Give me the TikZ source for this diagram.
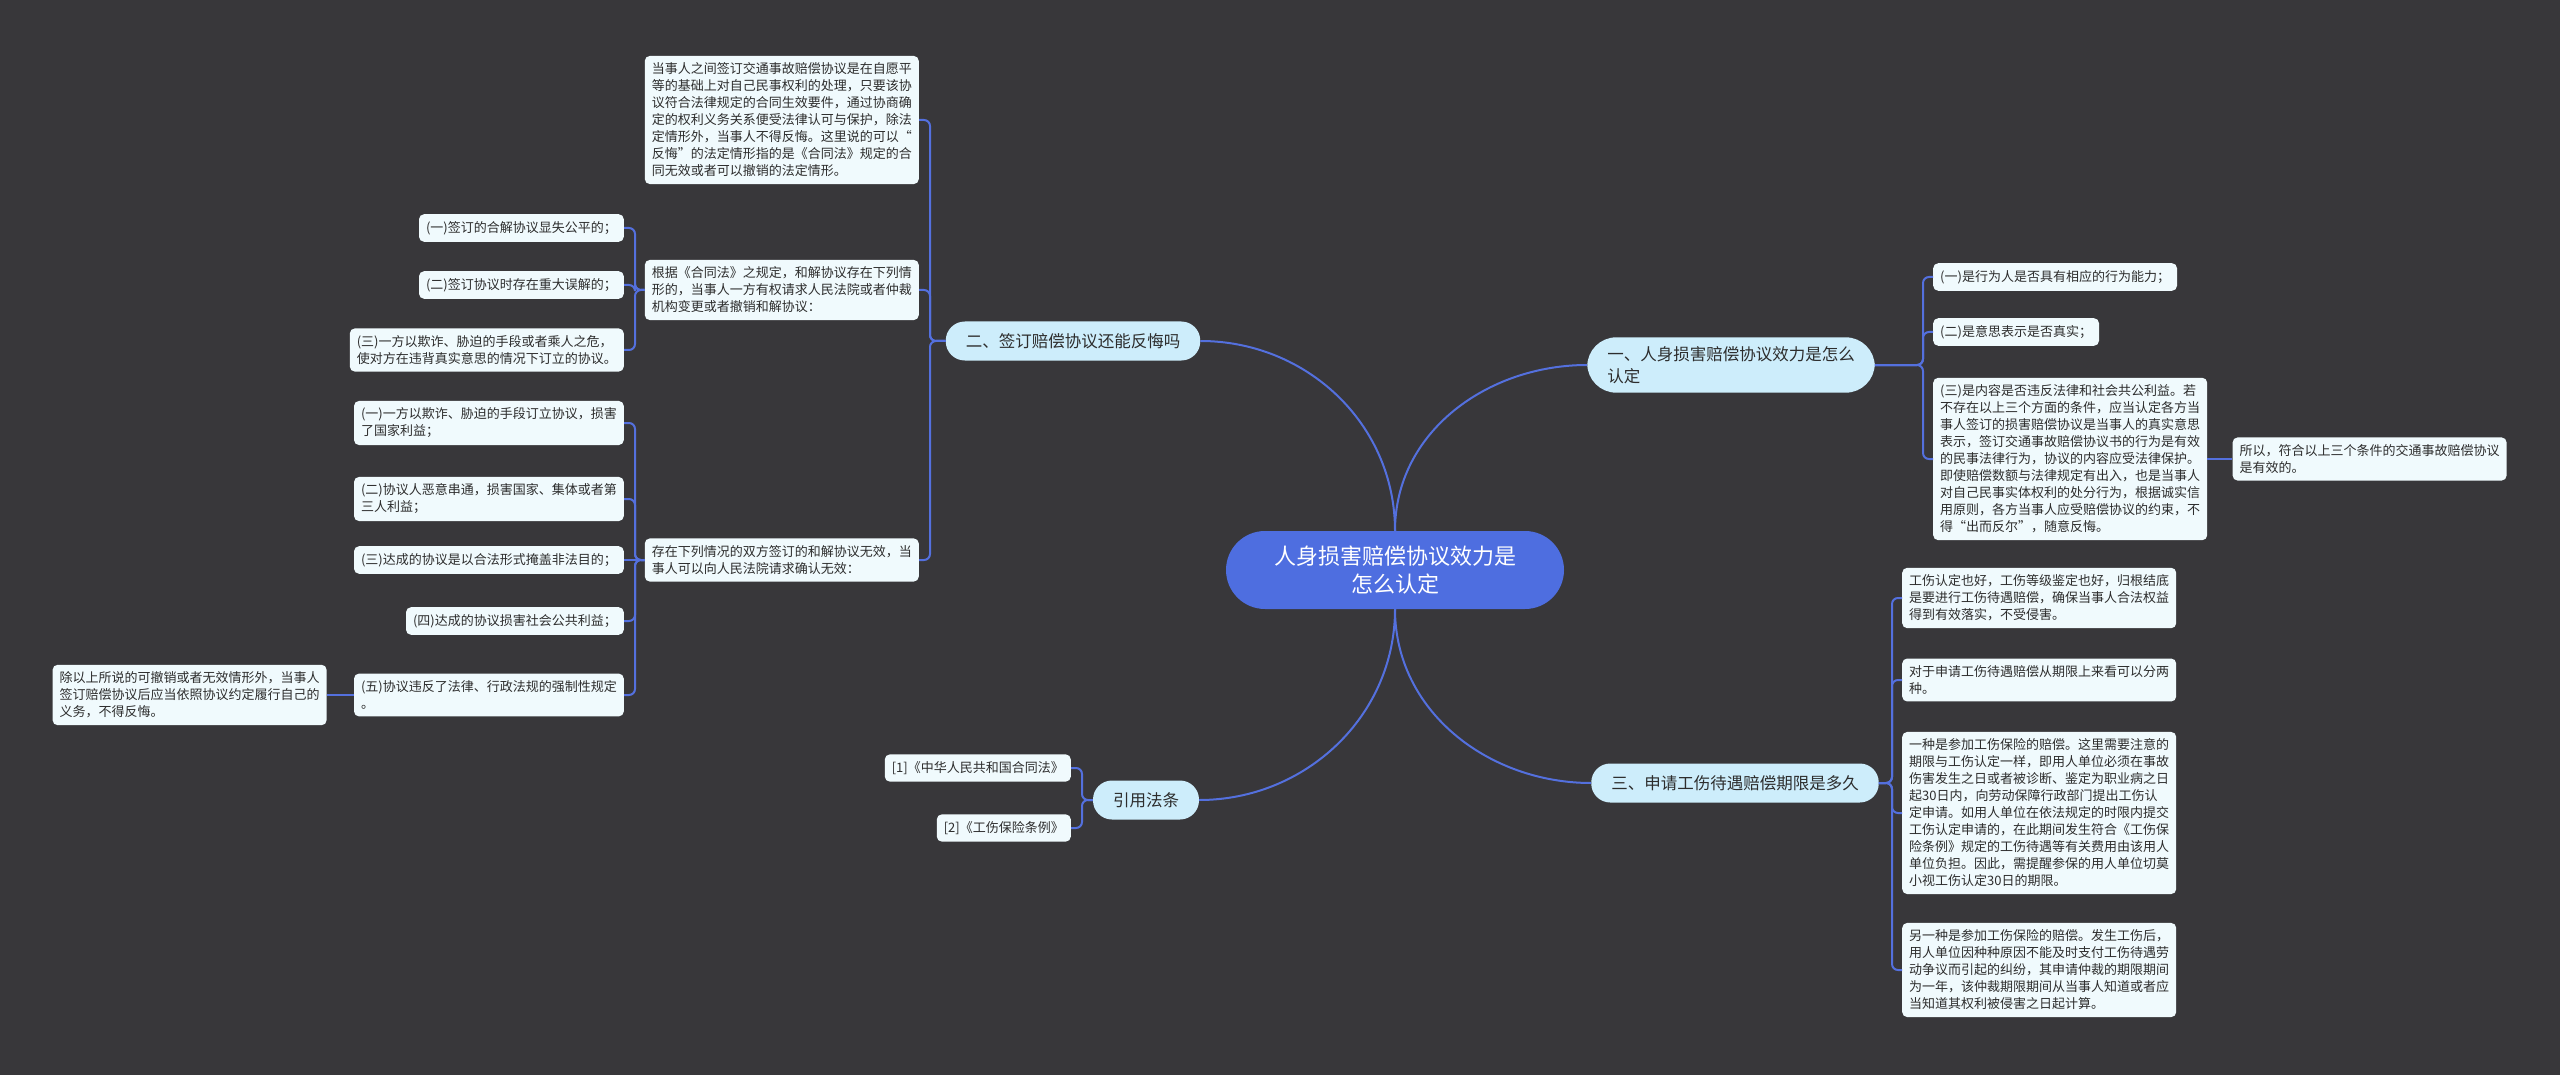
\documentclass[tikz,border=0pt]{standalone}
\usepackage{fontspec}
\setmainfont{Noto Sans CJK SC}
\usepackage{tikz}
\usetikzlibrary{positioning}
\definecolor{bgdark}{RGB}{56,55,58}
\definecolor{maplink}{RGB}{84,112,222}
\definecolor{rootblue}{RGB}{78,110,224}
\definecolor{topicblue}{RGB}{205,237,251}
\definecolor{leaffill}{RGB}{240,250,253}
\definecolor{inktext}{RGB}{45,45,45}
\tikzstyle{leaf} = [fill=leaffill, text=inktext, rounded corners=5pt, align=left,
  inner xsep=7pt, inner ysep=7pt, font=\fontsize{13}{17}\selectfont]
\tikzstyle{topic} = [fill=topicblue, text=inktext, rounded corners=19pt, align=left,
  inner xsep=20pt, inner ysep=9pt, minimum height=39pt,
  font=\fontsize{16.5}{22}\selectfont]
\tikzstyle{central} = [fill=rootblue, text=white, rounded corners=39pt, align=center,
  minimum width=338pt, minimum height=78pt, font=\fontsize{22}{28}\selectfont]
\tikzstyle{line} = [draw, line width=2pt, color=maplink, rounded corners=6pt]
\newcommand{\leafat}[3]{node (#1) [leaf, anchor=#2] {#3}}
\newcommand{\linkright}[2]{\path [line] (#1.east) -| ([xshift=-10pt]#2.west) -- (#2.west);}
\newcommand{\linkleft}[2]{\path [line] (#1.west) -| ([xshift=11pt]#2.east) -- (#2.east);}

\begin{document}
\begin{tikzpicture}[x=1pt,y=1pt]

  \useasboundingbox (0,0) rectangle (2560,-1075);
  \fill [bgdark] (0,0) rectangle (2560,-1075);

  % central topic and main branches
  \path (1395,-570) node (ROOT) [central] {人身损害赔偿协议效力是\\怎么认定};
  \path (1731,-365) node (XIAOLI) [topic, rounded corners=29pt] {一、人身损害赔偿协议效力是怎么\\认定};
  \path (1073,-341) node (FANHUI) [topic] {二、签订赔偿协议还能反悔吗};
  \path (1735,-783) node (QIXIAN) [topic] {三、申请工伤待遇赔偿期限是多久};
  \path (1146,-800) node (FATIAO) [topic] {引用法条};

  % branch one block area
  \path (1933,-277) \leafat{NENGLI}{west}{(一)是行为人是否具有相应的行为能力；};
  \path (1933,-332) \leafat{ZHENSHI}{west}{(二)是意思表示是否真实；};
  \path (1933,-459) \leafat{NEIRONG}{west}{(三)是内容是否违反法律和社会共公利益。若\\不存在以上三个方面的条件，应当认定各方当\\事人签订的损害赔偿协议是当事人的真实意思\\表示，签订交通事故赔偿协议书的行为是有效\\的民事法律行为，协议的内容应受法律保护。\\即使赔偿数额与法律规定有出入，也是当事人\\对自己民事实体权利的处分行为，根据诚实信\\用原则，各方当事人应受赔偿协议的约束，不\\得“出而反尔”，随意反悔。};
  \path (NEIRONG.east)+(25,0) \leafat{YOUXIAO}{west}{所以，符合以上三个条件的交通事故赔偿协议\\是有效的。};

  % branch two block area
  \path (919,-120) \leafat{ZIYUAN}{east}{当事人之间签订交通事故赔偿协议是在自愿平\\等的基础上对自己民事权利的处理，只要该协\\议符合法律规定的合同生效要件，通过协商确\\定的权利义务关系便受法律认可与保护，除法\\定情形外，当事人不得反悔。这里说的可以“\\反悔”的法定情形指的是《合同法》规定的合\\同无效或者可以撤销的法定情形。};
  \path (919,-290) \leafat{HETONGFA}{east}{根据《合同法》之规定，和解协议存在下列情\\形的，当事人一方有权请求人民法院或者仲裁\\机构变更或者撤销和解协议：};
  \path (919,-560) \leafat{WUXIAO}{east}{存在下列情况的双方签订的和解协议无效，当\\事人可以向人民法院请求确认无效：};

  \path (624,-228) \leafat{XIANSHI}{east}{(一)签订的合解协议显失公平的；};
  \path (624,-285) \leafat{WUJIE}{east}{(二)签订协议时存在重大误解的；};
  \path (624,-350) \leafat{QIZHA}{east}{(三)一方以欺诈、胁迫的手段或者乘人之危，\\使对方在违背真实意思的情况下订立的协议。};

  \path (624,-423) \leafat{SUNHAI}{east}{(一)一方以欺诈、胁迫的手段订立协议，损害\\了国家利益；};
  \path (624,-499) \leafat{CHUANTONG}{east}{(二)协议人恶意串通，损害国家、集体或者第\\三人利益；};
  \path (624,-560) \leafat{YANGAI}{east}{(三)达成的协议是以合法形式掩盖非法目的；};
  \path (624,-621) \leafat{GONGYI}{east}{(四)达成的协议损害社会公共利益；};
  \path (624,-695) \leafat{WEIFAN}{east}{(五)协议违反了法律、行政法规的强制性规定\\。};
  \path (WEIFAN.west)+(-27,0) \leafat{LVXING}{east}{除以上所说的可撤销或者无效情形外，当事人\\签订赔偿协议后应当依照协议约定履行自己的\\义务，不得反悔。};

  % cited laws block area
  \path (1071,-768) \leafat{HETONGFAREF}{east}{[1]《中华人民共和国合同法》};
  \path (1071,-828) \leafat{TIAOLI}{east}{[2]《工伤保险条例》};

  % branch three block area
  \path (1902,-598) \leafat{RENDING}{west}{工伤认定也好，工伤等级鉴定也好，归根结底\\是要进行工伤待遇赔偿，确保当事人合法权益\\得到有效落实，不受侵害。};
  \path (1902,-680) \leafat{LIANGZHONG}{west}{对于申请工伤待遇赔偿从期限上来看可以分两\\种。};
  \path (1902,-813) \leafat{YIZHONG}{west}{一种是参加工伤保险的赔偿。这里需要注意的\\期限与工伤认定一样，即用人单位必须在事故\\伤害发生之日或者被诊断、鉴定为职业病之日\\起30日内，向劳动保障行政部门提出工伤认\\定申请。如用人单位在依法规定的时限内提交\\工伤认定申请的，在此期间发生符合《工伤保\\险条例》规定的工伤待遇等有关费用由该用人\\单位负担。因此，需提醒参保的用人单位切莫\\小视工伤认定30日的期限。};
  \path (1902,-970) \leafat{LINGYIZHONG}{west}{另一种是参加工伤保险的赔偿。发生工伤后，\\用人单位因种种原因不能及时支付工伤待遇劳\\动争议而引起的纠纷，其申请仲裁的期限期间\\为一年，该仲裁期限期间从当事人知道或者应\\当知道其权利被侵害之日起计算。};

  %Draw links between elements
  %central topic
  \path [line] (ROOT.north) to[out=90,in=180] (XIAOLI.west);
  \path [line] (ROOT.north) to[out=90,in=0] (FANHUI.east);
  \path [line] (ROOT.south) to[out=-90,in=180] (QIXIAN.west);
  \path [line] (ROOT.south) to[out=-90,in=0] (FATIAO.east);

  %branch one
  \linkright{XIAOLI}{NENGLI}
  \linkright{XIAOLI}{ZHENSHI}
  \linkright{XIAOLI}{NEIRONG}
  \path [line] (NEIRONG.east) -- (YOUXIAO.west);

  %branch two
  \linkleft{FANHUI}{ZIYUAN}
  \linkleft{FANHUI}{HETONGFA}
  \linkleft{FANHUI}{WUXIAO}
  \linkleft{HETONGFA}{XIANSHI}
  \linkleft{HETONGFA}{WUJIE}
  \linkleft{HETONGFA}{QIZHA}
  \linkleft{WUXIAO}{SUNHAI}
  \linkleft{WUXIAO}{CHUANTONG}
  \path [line] (WUXIAO.west) -- (YANGAI.east);
  \linkleft{WUXIAO}{GONGYI}
  \linkleft{WUXIAO}{WEIFAN}
  \path [line] (WEIFAN.west) -- (LVXING.east);

  %cited laws
  \linkleft{FATIAO}{HETONGFAREF}
  \linkleft{FATIAO}{TIAOLI}

  %branch three
  \linkright{QIXIAN}{RENDING}
  \linkright{QIXIAN}{LIANGZHONG}
  \linkright{QIXIAN}{YIZHONG}
  \linkright{QIXIAN}{LINGYIZHONG}

\end{tikzpicture}
\end{document}
